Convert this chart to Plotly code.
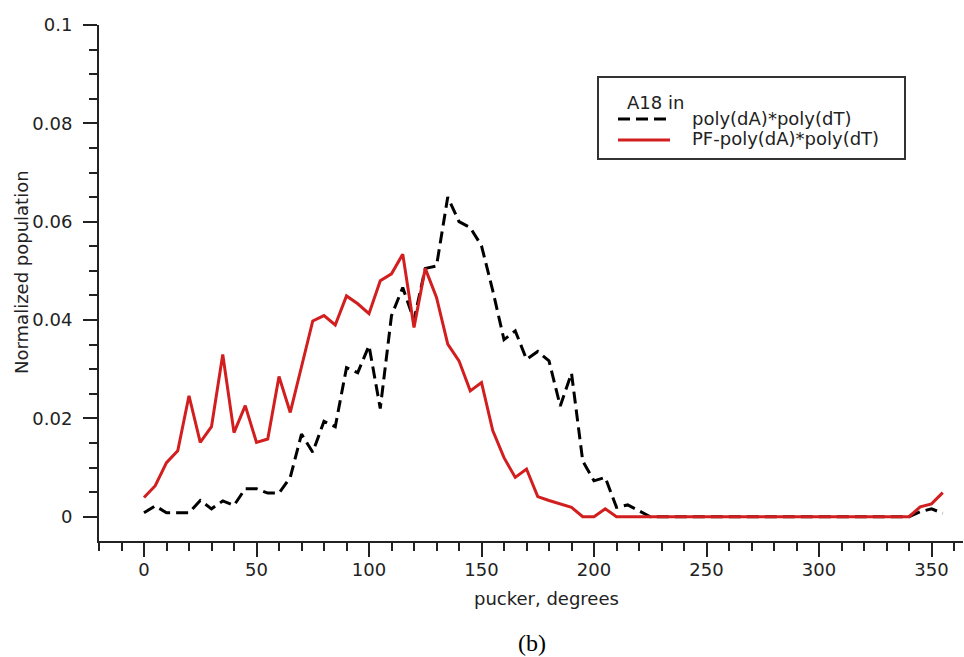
import plotly.graph_objects as go

# pucker angle (degrees)
pucker = [0, 5, 10, 15, 20, 25, 30, 35, 40, 45, 50, 55, 60, 65, 70, 75, 80, 85,
          90, 95, 100, 105, 110, 115, 120, 125, 130, 135, 140, 145, 150, 155, 160,
          165, 170, 175, 180, 185, 190, 195, 200, 205, 210, 215, 220, 225, 230,
          235, 240, 245, 250, 255, 260, 265, 270, 275, 280, 285, 290, 295, 300,
          305, 310, 315, 320, 325, 330, 335, 340, 345, 350, 355]

# A18 in poly(dA)*poly(dT)
pop_dadt = [0.0008, 0.0022, 0.0008, 0.0008, 0.0008, 0.0033, 0.0016, 0.0032, 0.0023,
            0.0057, 0.0057, 0.0048, 0.0048, 0.0080, 0.0168, 0.0131, 0.0194, 0.0183,
            0.0303, 0.0293, 0.0348, 0.0220, 0.0409, 0.0466, 0.0400, 0.0505, 0.0510,
            0.0650, 0.0600, 0.0588, 0.0551, 0.0460, 0.0360, 0.0378, 0.0320, 0.0336,
            0.0317, 0.0225, 0.0292, 0.0113, 0.0073, 0.0080, 0.0019, 0.0024, 0.0012,
            0.0, 0.0, 0.0, 0.0, 0.0, 0.0, 0.0, 0.0, 0.0, 0.0, 0.0, 0.0, 0.0, 0.0,
            0.0, 0.0, 0.0, 0.0, 0.0, 0.0, 0.0, 0.0, 0.0, 0.0, 0.0010, 0.0016, 0.0007]

# A18 in PF-poly(dA)*poly(dT)
pop_pf = [0.0039, 0.0063, 0.0110, 0.0134, 0.0246, 0.0151, 0.0183, 0.0330, 0.0171,
          0.0226, 0.0151, 0.0158, 0.0285, 0.0212, 0.0305, 0.0398, 0.0409, 0.0390,
          0.0449, 0.0433, 0.0413, 0.0480, 0.0494, 0.0534, 0.0385, 0.0505, 0.0446,
          0.0351, 0.0317, 0.0256, 0.0273, 0.0175, 0.0120, 0.0080, 0.0097, 0.0041,
          0.0033, 0.0026, 0.0019, 0.0, 0.0, 0.0016, 0.0, 0.0, 0.0, 0.0, 0.0, 0.0,
          0.0, 0.0, 0.0, 0.0, 0.0, 0.0, 0.0, 0.0, 0.0, 0.0, 0.0, 0.0, 0.0, 0.0,
          0.0, 0.0, 0.0, 0.0, 0.0, 0.0, 0.0, 0.0020, 0.0026, 0.0049]

series_names = ["poly(dA)*poly(dT)", "PF-poly(dA)*poly(dT)"]
series_colors = ["black", "#d21e1e"]
series_dash = ["12px,6px", "solid"]
legend_title = "A18 in"
x_title = "pucker, degrees"
y_title = "Normalized population"
caption = "(b)"

FONT = "DejaVu Sans"
TXT = "#222"
W, H = 964, 657
L, R, T, B = 99, 1, 25, 116
pw, ph = W - L - R, H - T - B


def px2paper(px, py):
    return (px - L) / pw, (H - B - py) / ph


fig = go.Figure()
for name, vals, col, dash in zip(series_names, [pop_dadt, pop_pf], series_colors, series_dash):
    fig.add_trace(go.Scatter(x=pucker, y=vals, mode="lines", name=name,
                             line=dict(color=col, width=3, dash=dash)))

annotations = []
shapes = []

# axis titles and caption
for text, (px, py), ang, fam, size, color in [
        (x_title, (546, 598), 0, FONT, 18, TXT),
        (y_title, (21, 272), -90, FONT, 18, TXT),
        (caption, (532, 643), 0, "Liberation Serif", 24, "black")]:
    xp, yp = px2paper(px, py)
    annotations.append(dict(text=text, x=xp, y=yp, xref="paper", yref="paper",
                            showarrow=False, xanchor="center", yanchor="middle",
                            textangle=ang, font=dict(family=fam, size=size, color=color)))

# legend box
bx0, by0 = px2paper(598, 77)
bx1, by1 = px2paper(905, 159)
shapes.append(dict(type="rect", xref="paper", yref="paper", x0=bx0, y0=by1, x1=bx1, y1=by0,
                   line=dict(color="#333", width=2), fillcolor="white", layer="above"))
tx, ty = px2paper(625, 102)
annotations.append(dict(text=legend_title, x=tx, y=ty, xref="paper", yref="paper",
                        showarrow=False, xanchor="left", yanchor="middle",
                        font=dict(family=FONT, size=18, color=TXT)))
for name, col, dash, rowy in zip(series_names, series_colors, series_dash, [119, 140]):
    sx0, sy = px2paper(618, rowy)
    sx1, _ = px2paper(670, rowy)
    shapes.append(dict(type="line", xref="paper", yref="paper", x0=sx0, x1=sx1, y0=sy, y1=sy,
                       line=dict(color=col, width=3, dash=dash), layer="above"))
    lx, ly = px2paper(690, rowy - 1)
    annotations.append(dict(text=name, x=lx, y=ly, xref="paper", yref="paper",
                            showarrow=False, xanchor="left", yanchor="middle",
                            font=dict(family=FONT, size=18, color=TXT)))

fig.update_layout(
    width=W, height=H,
    margin=dict(l=L, r=R, t=T, b=B, pad=0),
    paper_bgcolor="white", plot_bgcolor="white",
    font=dict(family=FONT, size=18, color=TXT),
    showlegend=False,
    xaxis=dict(range=[-20, 364], showgrid=False, zeroline=False,
               showline=True, linecolor="#222", linewidth=2,
               ticks="outside", ticklen=14, tickwidth=2, tickcolor="#222",
               tick0=0, dtick=50, ticklabelstandoff=-3,
               minor=dict(ticks="outside", ticklen=8, tickwidth=2,
                          tickcolor="#222", dtick=10, tick0=0, showgrid=False)),
    yaxis=dict(range=[-0.00494, 0.1], showgrid=False, zeroline=False,
               showline=True, linecolor="#222", linewidth=2,
               ticks="outside", ticklen=14, tickwidth=2, tickcolor="#222",
               tick0=0, dtick=0.02, ticklabelstandoff=7,
               minor=dict(ticks="outside", ticklen=8, tickwidth=2,
                          tickcolor="#222", dtick=0.005, tick0=0, showgrid=False)),
    annotations=annotations,
    shapes=shapes,
)

fig.write_html("out.html")
